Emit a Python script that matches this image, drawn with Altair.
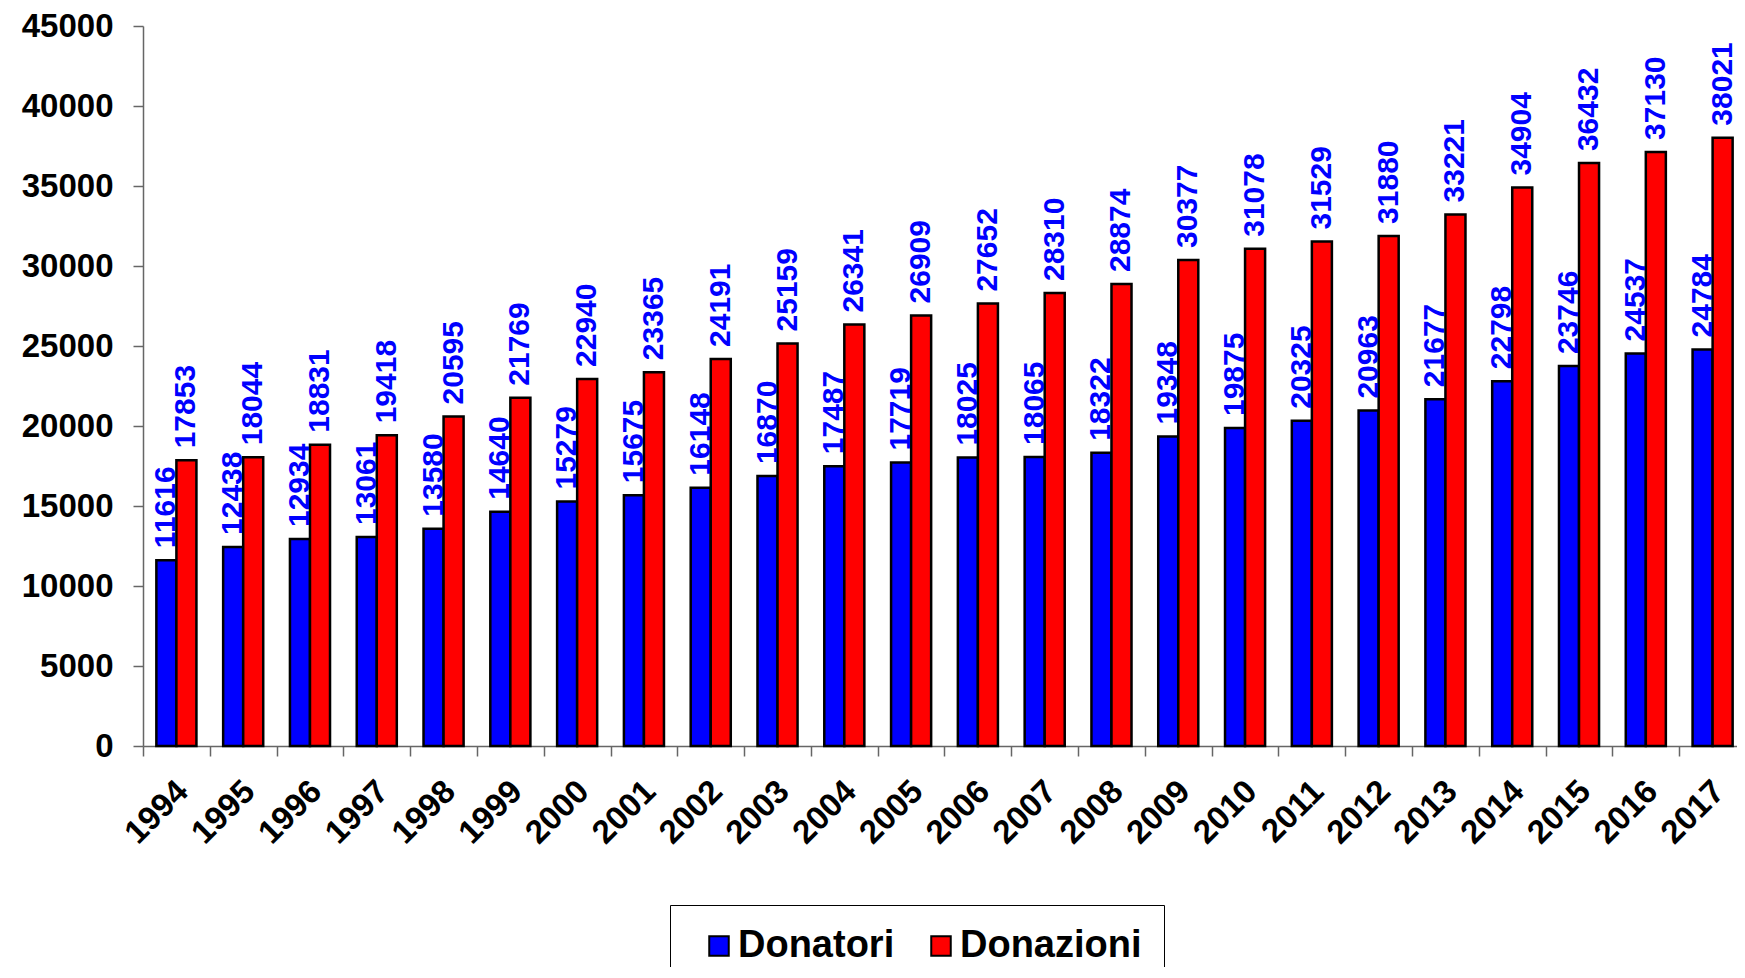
import altair as alt
import pandas as pd

years = [str(y) for y in range(1994, 2018)]
donatori = [11616, 12438, 12934, 13061, 13580, 14640, 15279, 15675, 16148, 16870,
            17487, 17719, 18025, 18065, 18322, 19348, 19875, 20325, 20963, 21677,
            22798, 23746, 24537, 24784]
donazioni = [17853, 18044, 18831, 19418, 20595, 21769, 22940, 23365, 24191, 25159,
             26341, 26909, 27652, 28310, 28874, 30377, 31078, 31529, 31880, 33221,
             34904, 36432, 37130, 38021]
series = ["Donatori", "Donazioni"]
colors = ["#0000FF", "#FF0000"]

rows = []
for i, y in enumerate(years):
    rows.append({"anno": y, "serie": series[0], "valore": donatori[i]})
    rows.append({"anno": y, "serie": series[1], "valore": donazioni[i]})
df = pd.DataFrame(rows)

FONT = "Liberation Sans"
W, H = 1603, 720
step = W / 24

x = alt.X(
    "anno:N", sort=years,
    scale=alt.Scale(paddingInner=0.4, paddingOuter=0.2),
    axis=alt.Axis(
        title=None, labelAngle=-45, labelAlign="right", labelBaseline="middle",
        labelFont=FONT, labelFontSize=33, labelFontWeight="bold", labelColor="black",
        tickOffset=-step / 2, labelOffset=step / 2 + 6, tickSize=10, tickColor="#666666",
        domainColor="#666666", tickWidth=1.5, domainWidth=1.5, labelPadding=30,
    ),
)
xo = alt.XOffset("serie:N", sort=series, scale=alt.Scale(paddingInner=0, paddingOuter=0))
y = alt.Y(
    "valore:Q",
    scale=alt.Scale(domain=[0, 45000], nice=False),
    axis=alt.Axis(
        title=None, values=list(range(0, 45001, 5000)), grid=False, format="d",
        labelFont=FONT, labelFontSize=33, labelFontWeight="bold", labelColor="black",
        tickSize=10, tickColor="#666666", domainColor="#666666", tickWidth=1.5,
        domainWidth=1.5, labelPadding=20,
    ),
)

bars = alt.Chart(df).mark_bar(stroke="black", strokeWidth=2.5).encode(
    x=x, xOffset=xo, y=y,
    color=alt.Color(
        "serie:N", sort=series,
        scale=alt.Scale(domain=series, range=colors),
        legend=alt.Legend(
            title=None, orient="none", legendX=527, legendY=879, direction="horizontal",
            strokeColor="black", fillColor="white", padding=22, symbolOffset=8,
            symbolType="square", symbolSize=380, symbolStrokeColor="black",
            symbolStrokeWidth=2, symbolOpacity=1,
            labelFont=FONT, labelFontSize=38, labelFontWeight="bold", labelColor="black",
            labelOffset=0, columnPadding=19, labelLimit=400,
        ),
    ),
)

labels = alt.Chart(df).mark_text(
    angle=270, align="left", baseline="middle", dx=12,
    color="#0000FF", font=FONT, fontSize=30, fontWeight="bold",
).encode(x=x, xOffset=xo, y=y, text="valore:Q")

chart = (bars + labels).properties(
    width=W, height=H,
    autosize=alt.AutoSizeParams(type="none"),
    padding={"left": 135, "top": 18, "right": -9, "bottom": 221},
).configure_view(stroke=None)

chart.save("out.html", embed_options={"renderer": "svg", "actions": False})
